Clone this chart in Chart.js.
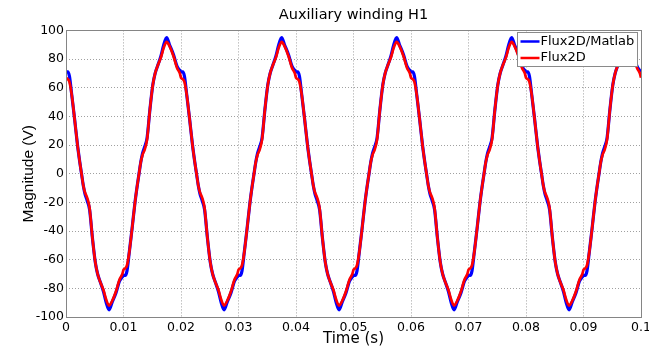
<!DOCTYPE html>
<html lang="en">
<head>
  <meta charset="UTF-8">
  <title>Auxiliary winding H1</title>
  <script src="https://cdn.jsdelivr.net/npm/chart.js"></script>
  <style>
    body { margin: 0; background: #fff; }
  </style>
</head>
<body>
  <canvas id="windingChart" width="649" height="350"></canvas>

  <script>
    // sample times (s), five 50 Hz periods
    const time = [
      0, 0.0003, 0.0006, 0.001, 0.0015, 0.002, 0.0024, 0.0027, 0.003, 0.0033, 0.0037, 0.0041, 0.0046, 0.0051, 0.0055, 0.006, 0.0065, 0.007, 0.0075, 0.008, 0.0087, 0.0093, 0.0098,
      0.01, 0.0103, 0.0106, 0.011, 0.0115, 0.012, 0.0124, 0.0127, 0.013, 0.0133, 0.0137, 0.0141, 0.0146, 0.0151, 0.0155, 0.016, 0.0165, 0.017, 0.0175, 0.018, 0.0187, 0.0193, 0.0198,
      0.02, 0.0203, 0.0206, 0.021, 0.0215, 0.022, 0.0224, 0.0227, 0.023, 0.0233, 0.0237, 0.0241, 0.0246, 0.0251, 0.0255, 0.026, 0.0265, 0.027, 0.0275, 0.028, 0.0287, 0.0293, 0.0298,
      0.03, 0.0303, 0.0306, 0.031, 0.0315, 0.032, 0.0324, 0.0327, 0.033, 0.0333, 0.0337, 0.0341, 0.0346, 0.0351, 0.0355, 0.036, 0.0365, 0.037, 0.0375, 0.038, 0.0387, 0.0393, 0.0398,
      0.04, 0.0403, 0.0406, 0.041, 0.0415, 0.042, 0.0424, 0.0427, 0.043, 0.0433, 0.0437, 0.0441, 0.0446, 0.0451, 0.0455, 0.046, 0.0465, 0.047, 0.0475, 0.048, 0.0487, 0.0493, 0.0498,
      0.05, 0.0503, 0.0506, 0.051, 0.0515, 0.052, 0.0524, 0.0527, 0.053, 0.0533, 0.0537, 0.0541, 0.0546, 0.0551, 0.0555, 0.056, 0.0565, 0.057, 0.0575, 0.058, 0.0587, 0.0593, 0.0598,
      0.06, 0.0603, 0.0606, 0.061, 0.0615, 0.062, 0.0624, 0.0627, 0.063, 0.0633, 0.0637, 0.0641, 0.0646, 0.0651, 0.0655, 0.066, 0.0665, 0.067, 0.0675, 0.068, 0.0687, 0.0693, 0.0698,
      0.07, 0.0703, 0.0706, 0.071, 0.0715, 0.072, 0.0724, 0.0727, 0.073, 0.0733, 0.0737, 0.0741, 0.0746, 0.0751, 0.0755, 0.076, 0.0765, 0.077, 0.0775, 0.078, 0.0787, 0.0793, 0.0798,
      0.08, 0.0803, 0.0806, 0.081, 0.0815, 0.082, 0.0824, 0.0827, 0.083, 0.0833, 0.0837, 0.0841, 0.0846, 0.0851, 0.0855, 0.086, 0.0865, 0.087, 0.0875, 0.088, 0.0887, 0.0893, 0.0898,
      0.09, 0.0903, 0.0906, 0.091, 0.0915, 0.092, 0.0924, 0.0927, 0.093, 0.0933, 0.0937, 0.0941, 0.0946, 0.0951, 0.0955, 0.096, 0.0965, 0.097, 0.0975, 0.098, 0.0987, 0.0993, 0.0998,
      0.1
    ];

    // Flux2D/Matlab co-simulation voltage (V)
    const matlab = [
      71, 71, 68, 55, 38, 20, 8, 0, -8, -14, -19, -25, -45, -62, -70, -76, -82, -90, -95, -90, -83, -75, -72,
      -71, -71, -68, -55, -38, -20, -8, 0, 8, 14, 19, 25, 45, 62, 70, 76, 82, 90, 95, 90, 83, 75, 72,
      71, 71, 68, 55, 38, 20, 8, 0, -8, -14, -19, -25, -45, -62, -70, -76, -82, -90, -95, -90, -83, -75, -72,
      -71, -71, -68, -55, -38, -20, -8, 0, 8, 14, 19, 25, 45, 62, 70, 76, 82, 90, 95, 90, 83, 75, 72,
      71, 71, 68, 55, 38, 20, 8, 0, -8, -14, -19, -25, -45, -62, -70, -76, -82, -90, -95, -90, -83, -75, -72,
      -71, -71, -68, -55, -38, -20, -8, 0, 8, 14, 19, 25, 45, 62, 70, 76, 82, 90, 95, 90, 83, 75, 72,
      71, 71, 68, 55, 38, 20, 8, 0, -8, -14, -19, -25, -45, -62, -70, -76, -82, -90, -95, -90, -83, -75, -72,
      -71, -71, -68, -55, -38, -20, -8, 0, 8, 14, 19, 25, 45, 62, 70, 76, 82, 90, 95, 90, 83, 75, 72,
      71, 71, 68, 55, 38, 20, 8, 0, -8, -14, -19, -25, -45, -62, -70, -76, -82, -90, -95, -90, -83, -75, -72,
      -71, -71, -68, -55, -38, -20, -8, 0, 8, 14, 19, 25, 45, 62, 70, 76, 82, 90, 95, 90, 83, 75, 72,
      71
    ];

    // Flux2D alone (V)
    const flux2d = [
      67, 66, 64, 55, 38, 20, 8, 0, -8, -13, -17, -24, -45, -62, -70, -76, -81, -88, -92, -89, -82, -74, -70,
      -67, -66, -64, -55, -38, -20, -8, 0, 8, 13, 17, 24, 45, 62, 70, 76, 81, 88, 92, 89, 82, 74, 70,
      67, 66, 64, 55, 38, 20, 8, 0, -8, -13, -17, -24, -45, -62, -70, -76, -81, -88, -92, -89, -82, -74, -70,
      -67, -66, -64, -55, -38, -20, -8, 0, 8, 13, 17, 24, 45, 62, 70, 76, 81, 88, 92, 89, 82, 74, 70,
      67, 66, 64, 55, 38, 20, 8, 0, -8, -13, -17, -24, -45, -62, -70, -76, -81, -88, -92, -89, -82, -74, -70,
      -67, -66, -64, -55, -38, -20, -8, 0, 8, 13, 17, 24, 45, 62, 70, 76, 81, 88, 92, 89, 82, 74, 70,
      67, 66, 64, 55, 38, 20, 8, 0, -8, -13, -17, -24, -45, -62, -70, -76, -81, -88, -92, -89, -82, -74, -70,
      -67, -66, -64, -55, -38, -20, -8, 0, 8, 13, 17, 24, 45, 62, 70, 76, 81, 88, 92, 89, 82, 74, 70,
      67, 66, 64, 55, 38, 20, 8, 0, -8, -13, -17, -24, -45, -62, -70, -76, -81, -88, -92, -89, -82, -74, -70,
      -67, -66, -64, -55, -38, -20, -8, 0, 8, 13, 17, 24, 45, 62, 70, 76, 81, 88, 92, 89, 82, 74, 70,
      67
    ];

    const timeTicks = ['0', '0.01', '0.02', '0.03', '0.04', '0.05', '0.06', '0.07', '0.08', '0.09', '0.1'];
    const seriesNames = ['Flux2D/Matlab', 'Flux2D'];
    const seriesColors = ['#0000ff', '#ff0000'];

    const toPoints = (ys) => time.map((t, i) => ({ x: t, y: ys[i] }));

    // axes box around the plot area
    const frame = {
      id: 'frame',
      afterDatasetsDraw(chart) {
        const a = chart.chartArea;
        const ctx = chart.ctx;
        ctx.save();
        ctx.strokeStyle = '#858585';
        ctx.lineWidth = 1;
        ctx.strokeRect(Math.round(a.left) + 0.5, Math.round(a.top) + 0.5,
          Math.round(a.right - a.left), Math.round(a.bottom - a.top));
        ctx.restore();
      }
    };

    // boxed legend in the upper right corner, drawn over the curves
    const boxLegend = {
      id: 'boxLegend',
      afterDraw(chart) {
        const a = chart.chartArea;
        const ctx = chart.ctx;
        const w = 120, h = 34;
        const x = Math.round(a.right) - 4 - w + 0.5;
        const y = Math.round(a.top) + 2 + 0.5;
        ctx.save();
        ctx.fillStyle = '#fff';
        ctx.fillRect(x, y, w, h);
        ctx.strokeStyle = '#8a8a8a';
        ctx.lineWidth = 1;
        ctx.strokeRect(x, y, w, h);
        ctx.font = '13px "DejaVu Sans"';
        ctx.textBaseline = 'middle';
        seriesNames.forEach((name, i) => {
          const ly = y + 9 + i * 16.5;
          ctx.strokeStyle = seriesColors[i];
          ctx.lineWidth = 2.5;
          ctx.beginPath();
          ctx.moveTo(x + 3, ly);
          ctx.lineTo(x + 22, ly);
          ctx.stroke();
          ctx.fillStyle = '#000';
          ctx.fillText(name, x + 23, ly);
        });
        ctx.restore();
      }
    };

    Chart.defaults.font.family = '"DejaVu Sans"';
    Chart.defaults.color = '#000';

    new Chart(document.getElementById('windingChart'), {
      type: 'line',
      data: {
        datasets: [
          {
            label: seriesNames[0],
            data: toPoints(matlab),
            borderColor: seriesColors[0],
            borderWidth: 3.2,
            pointRadius: 0,
            cubicInterpolationMode: 'monotone',
            order: 1
          },
          {
            label: seriesNames[1],
            data: toPoints(flux2d),
            borderColor: seriesColors[1],
            borderWidth: 2.7,
            pointRadius: 0,
            cubicInterpolationMode: 'monotone',
            order: 0
          }
        ]
      },
      options: {
        responsive: false,
        animation: false,
        devicePixelRatio: 1,
        layout: { padding: { left: 0, right: 8, top: 0, bottom: 0 } },
        plugins: {
          legend: { display: false },
          tooltip: { enabled: false },
          title: {
            display: true,
            text: 'Auxiliary winding H1',
            fullSize: false,
            font: { size: 14.5, weight: 'normal' },
            padding: { top: 7, bottom: 6 }
          }
        },
        scales: {
          x: {
            type: 'linear',
            min: 0,
            max: 0.1,
            ticks: {
              stepSize: 0.01,
              maxRotation: 0,
              autoSkip: false,
              padding: 3,
              font: { size: 12.5 },
              callback: (v, i) => timeTicks[i]
            },
            grid: { color: '#a0a0a0', drawTicks: false },
            border: { display: false, dash: [1, 2] },
            title: {
              display: true,
              text: 'Time (s)',
              font: { size: 15 },
              padding: { top: 0, bottom: 2 }
            },
            afterFit(scale) {
              scale.height = 33;
              scale.paddingLeft = 0;
              scale.paddingRight = 0;
            }
          },
          y: {
            min: -100,
            max: 100,
            ticks: {
              stepSize: 20,
              padding: 2,
              font: { size: 12.5 }
            },
            grid: { color: '#a0a0a0', drawTicks: false },
            border: { display: false, dash: [1, 2] },
            title: {
              display: true,
              text: 'Magnitude (V)',
              font: { family: '"Liberation Sans"', size: 15.5 },
              padding: { top: 19, bottom: 0 }
            },
            afterFit(scale) {
              scale.width = 66;
              scale.paddingTop = 0;
              scale.paddingBottom = 0;
            }
          }
        }
      },
      plugins: [frame, boxLegend]
    });
  </script>
</body>
</html>
